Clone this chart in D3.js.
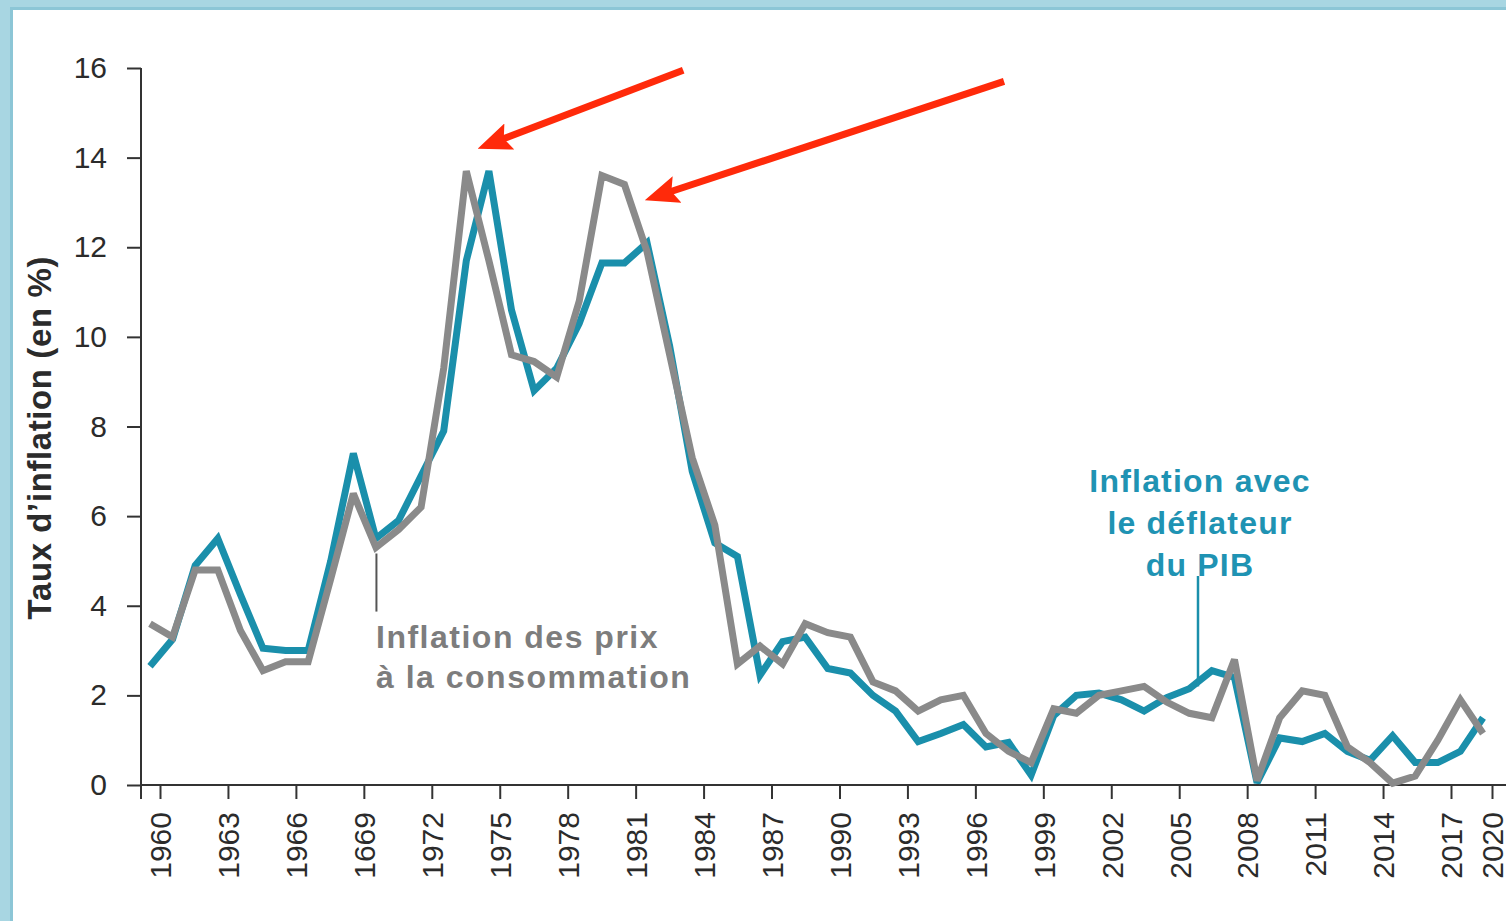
<!DOCTYPE html>
<html>
<head>
<meta charset="utf-8">
<script src="https://cdn.jsdelivr.net/npm/d3@7"></script>
<style>
  html, body { margin: 0; padding: 0; background: #fff; }
  svg { display: block; }
  .axis text { font-family: "Liberation Sans", Arial, sans-serif; font-size: 30px; fill: #2b2b2b; }
  .axis line, .axis path { stroke: #333; stroke-width: 2; }
</style>
</head>
<body>
<svg id="chart" width="1506" height="921"></svg>
<script>
const years = d3.range(1960, 2020);

// Inflation avec le déflateur du PIB (teal)
const deflator = [
  2.65, 3.25, 4.9, 5.5, 4.25, 3.05, 3.0, 3.0, 5.0, 7.4,
  5.5, 5.9, 6.9, 7.9, 11.7, 13.7, 10.6, 8.8, 9.3, 10.3,
  11.65, 11.65, 12.1, 9.8, 7.0, 5.4, 5.1, 2.45, 3.2, 3.3,
  2.6, 2.5, 2.0, 1.65, 0.97, 1.15, 1.35, 0.85, 0.95, 0.22,
  1.55, 2.0, 2.05, 1.9, 1.65, 1.95, 2.15, 2.55, 2.4, 0.05,
  1.05, 0.97, 1.15, 0.75, 0.55, 1.1, 0.5, 0.5, 0.75, 1.5
];

// Inflation des prix à la consommation (gray)
const cpi = [
  3.6, 3.3, 4.8, 4.8, 3.45, 2.55, 2.75, 2.75, 4.6, 6.5,
  5.3, 5.7, 6.2, 9.3, 13.7, 11.7, 9.6, 9.45, 9.1, 10.8,
  13.6, 13.4, 11.9, 9.6, 7.3, 5.8, 2.7, 3.1, 2.7, 3.6,
  3.4, 3.3, 2.3, 2.1, 1.65, 1.9, 2.0, 1.15, 0.75, 0.5,
  1.7, 1.6, 2.0, 2.1, 2.2, 1.85, 1.6, 1.5, 2.8, 0.1,
  1.5, 2.1, 2.0, 0.85, 0.5, 0.04, 0.2, 1.0, 1.9, 1.15
];

const tickYears = d3.range(1960, 2021, 3);
const tickLabels = ["1960", "1963", "1966", "1669", "1972", "1975", "1978", "1981",
  "1984", "1987", "1990", "1993", "1996", "1999", "2002", "2005", "2008", "2011",
  "2014", "2017", "2020"];
const yTicks = [0, 2, 4, 6, 8, 10, 12, 14, 16];

const yTitle = "Taux d’inflation (en %)";
const cpiLabel = ["Inflation des prix", "à la consommation"];
const deflLabel = ["Inflation avec", "le déflateur", "du PIB"];

// arrows: [fromYear, fromValue, toYear, toValue]
const arrows = [
  [1983.6, 15.95, 1974.5, 14.2],
  [1997.8, 15.7, 1981.9, 13.05]
];

const tealColor = "#1a8fab";
const grayColor = "#8a8a8a";
const redColor = "#ff2a0a";

const svg = d3.select("#chart");
const width = +svg.attr("width");
const height = +svg.attr("height");

// frame
svg.append("rect").attr("x", 0).attr("y", 0).attr("width", width).attr("height", 10).attr("fill", "#a8d6e2");
svg.append("rect").attr("x", 0).attr("y", 7).attr("width", width).attr("height", 3).attr("fill", "#8cc6d6");
svg.append("rect").attr("x", 0).attr("y", 0).attr("width", 13).attr("height", height).attr("fill", "#a8d6e2");
svg.append("rect").attr("x", 10).attr("y", 7).attr("width", 3).attr("height", height).attr("fill", "#8cc6d6");

const x = d3.scaleLinear().domain([1960, 2019]).range([150, 1483]);
const xTicks = d3.scaleLinear().domain([1960, 2017, 2020]).range([160, 1451, 1492]);
const y = d3.scaleLinear().domain([0, 16]).range([785, 68]);

const axisLeft = 141;

// y axis
const yAxisG = svg.append("g")
  .attr("class", "axis")
  .attr("transform", `translate(${axisLeft},0)`)
  .call(d3.axisLeft(y).tickValues(yTicks).tickSize(14).tickPadding(20).tickSizeOuter(0));
yAxisG.select(".domain").remove();
yAxisG.append("line")
  .attr("x1", 0).attr("x2", 0)
  .attr("y1", y(16)).attr("y2", y(0) + 14);

// x axis
const xAxisG = svg.append("g")
  .attr("class", "axis")
  .attr("transform", `translate(0,${y(0)})`)
  .call(d3.axisBottom(xTicks).tickValues(tickYears)
    .tickFormat((d, i) => tickLabels[i]).tickSize(14).tickSizeOuter(0));
xAxisG.select(".domain").remove();
xAxisG.append("line")
  .attr("x1", axisLeft).attr("x2", width)
  .attr("y1", 0).attr("y2", 0);
xAxisG.selectAll(".tick text")
  .attr("y", 0)
  .attr("x", -27)
  .attr("dy", "0.36em")
  .attr("transform", "rotate(-90)")
  .style("text-anchor", "end");

// y title
svg.append("text")
  .attr("transform", `translate(51,${y(7.75)}) rotate(-90)`)
  .attr("text-anchor", "middle")
  .attr("font-family", "Liberation Sans, Arial, sans-serif")
  .attr("font-weight", "bold")
  .attr("font-size", 33)
  .attr("letter-spacing", 0.6)
  .attr("fill", "#2b2b2b")
  .text(yTitle);

// lines
const line = (vals) => d3.line()
  .x((d, i) => x(years[i]))
  .y(d => y(d))(vals);

svg.append("path")
  .attr("d", line(deflator))
  .attr("fill", "none")
  .attr("stroke", tealColor)
  .attr("stroke-width", 7)
  .attr("stroke-linejoin", "miter")
  .attr("stroke-miterlimit", 3);

svg.append("path")
  .attr("d", line(cpi))
  .attr("fill", "none")
  .attr("stroke", grayColor)
  .attr("stroke-width", 7)
  .attr("stroke-linejoin", "miter")
  .attr("stroke-miterlimit", 3);

// annotation: CPI
svg.append("line")
  .attr("x1", x(1970) + 0.5).attr("x2", x(1970) + 0.5)
  .attr("y1", y(5.3) + 6).attr("y2", y(3.87))
  .attr("stroke", "#555").attr("stroke-width", 2);

const cpiText = svg.append("text")
  .attr("font-family", "Liberation Sans, Arial, sans-serif")
  .attr("font-weight", "bold")
  .attr("font-size", 32)
  .attr("letter-spacing", 1.5)
  .attr("fill", "#7d7d7d");
cpiLabel.forEach((t, i) => {
  cpiText.append("tspan")
    .attr("x", 376)
    .attr("y", 648 + i * 40)
    .text(t);
});

// annotation: deflator
svg.append("line")
  .attr("x1", 1198).attr("x2", 1198)
  .attr("y1", 576).attr("y2", y(2.2))
  .attr("stroke", tealColor).attr("stroke-width", 2.5);

const deflText = svg.append("text")
  .attr("font-family", "Liberation Sans, Arial, sans-serif")
  .attr("font-weight", "bold")
  .attr("font-size", 32)
  .attr("letter-spacing", 1.2)
  .attr("text-anchor", "middle")
  .attr("fill", "#1f93b3");
deflLabel.forEach((t, i) => {
  deflText.append("tspan")
    .attr("x", 1200)
    .attr("y", 492 + i * 42)
    .text(t);
});

// red arrows: shaft ends short of the tip, head drawn as a marker
const headLen = 34;
const shaftGap = 22;
svg.append("defs").append("marker")
  .attr("id", "head")
  .attr("markerUnits", "userSpaceOnUse")
  .attr("viewBox", `0 0 ${headLen} 28`)
  .attr("refX", headLen - shaftGap)
  .attr("refY", 14)
  .attr("markerWidth", headLen)
  .attr("markerHeight", 28)
  .attr("orient", "auto")
  .append("path")
  .attr("d", `M0,0 L${headLen},14 L0,28 L6,14 Z`)
  .attr("fill", redColor);

const angle = d => Math.atan2(y(d[3]) - y(d[1]), x(d[2]) - x(d[0]));

svg.selectAll(".arrow")
  .data(arrows)
  .enter()
  .append("line")
  .attr("class", "arrow")
  .attr("x1", d => x(d[0]))
  .attr("y1", d => y(d[1]))
  .attr("x2", d => x(d[2]) - Math.cos(angle(d)) * shaftGap)
  .attr("y2", d => y(d[3]) - Math.sin(angle(d)) * shaftGap)
  .attr("stroke", redColor)
  .attr("stroke-width", 7)
  .attr("marker-end", "url(#head)");
</script>
</body>
</html>
